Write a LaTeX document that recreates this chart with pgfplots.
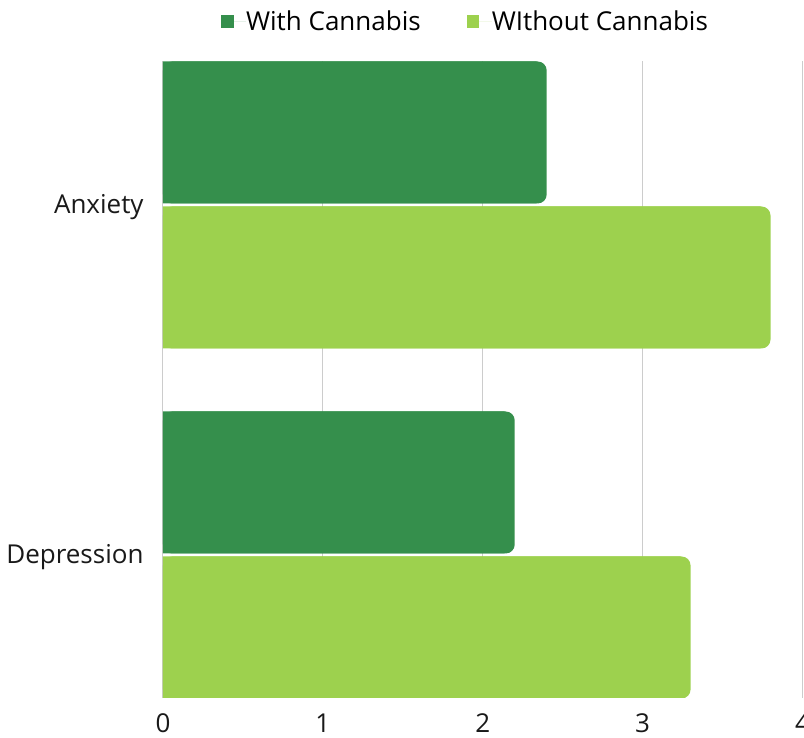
\documentclass[border=0pt]{standalone}
\usepackage{pgfplots}
\pgfplotsset{compat=1.18}
\usepackage{fontspec}
\setmainfont{Open Sans}

\definecolor{withc}{RGB}{53,143,76}
\definecolor{withoutc}{RGB}{157,209,78}
\definecolor{gridc}{RGB}{204,204,204}

\begin{document}
\begin{tikzpicture}
\path[use as bounding box, clip] (0pt,0pt) rectangle (804pt,738pt);
\begin{axis}[
  at={(163pt,40pt)}, anchor=south west,
  scale only axis,
  width=639.5pt, height=637pt,
  xbar, bar width=142pt,
  xmin=0, xmax=4,
  ymin=-0.4086, ymax=1.4114,
  xtick={0,1,2,3,4},
  ytick={0,1},
  yticklabels={Depression,Anxiety},
  axis line style={draw=none},
  tick style={draw=none},
  xmajorgrids,
  grid style={gridc, line width=1pt},
  /pgf/number format/assume math mode=true,
  xticklabel style={anchor=center, inner sep=0pt, yshift=-25.5pt},
  yticklabel style={anchor=east, inner sep=0pt, xshift=-15pt, yshift=-2.5pt},
  ticklabel style={font=\fontsize{26}{31}\selectfont, text=black!90},
  legend style={at={(rel axis cs:0.4715,1.062)}, anchor=center,
    draw=none, fill=none, legend columns=2,
    font=\fontsize{26}{31}\selectfont,
    nodes={inner sep=0pt},
    /tikz/every even column/.append style={column sep=46pt}},
  legend image code/.code={%
    \fill[#1, sharp corners] (0pt,-6.5pt) rectangle (12.5pt,6.5pt);
    \path (0pt,0pt) -- (25pt,0pt);},
]
% rounded bars
\addplot[fill=withc, draw=none, bar shift=72.5pt, rounded corners=9pt]
  coordinates {(2.4,1) (2.2,0)};
\addlegendentry{With Cannabis}
\addplot[fill=withoutc, draw=none, bar shift=-72.5pt, rounded corners=9pt]
  coordinates {(3.8,1) (3.3,0)};
\addlegendentry{WIthout Cannabis}
% square off the left ends of the same bars
\addplot[fill=withc, draw=none, bar shift=72.5pt, xshift=-10pt, forget plot]
  coordinates {(2.4,1) (2.2,0)};
\addplot[fill=withoutc, draw=none, bar shift=-72.5pt, xshift=-10pt, forget plot]
  coordinates {(3.8,1) (3.3,0)};
\end{axis}
\end{tikzpicture}
\end{document}
